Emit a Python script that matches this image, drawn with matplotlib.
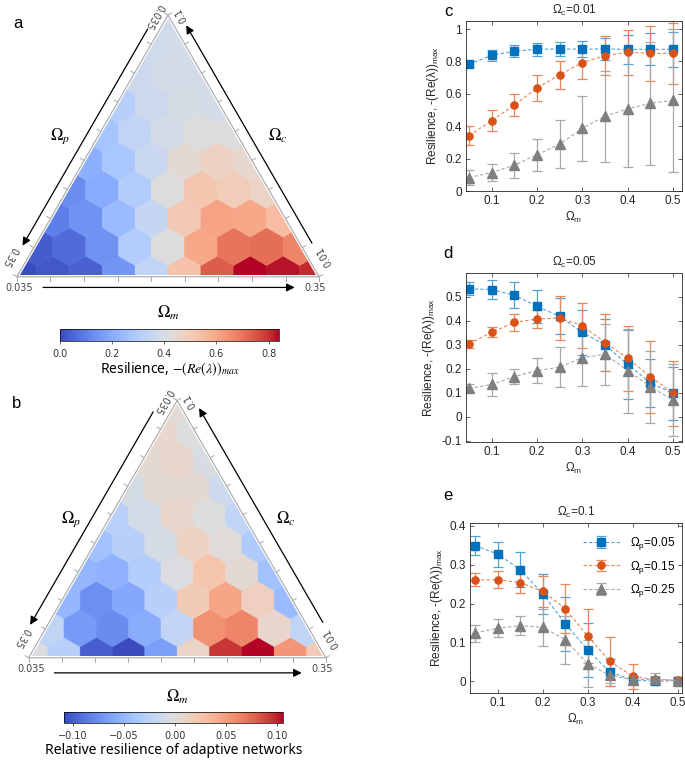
import numpy as np
import matplotlib
matplotlib.use('Agg')
import matplotlib.pyplot as plt
from matplotlib.patches import RegularPolygon, Polygon
from matplotlib.collections import PatchCollection
from matplotlib.colors import Normalize
from matplotlib.ticker import FuncFormatter
import matplotlib.cm as cm

plt.rcParams['font.family'] = ['Liberation Sans', 'DejaVu Sans']
plt.rcParams['mathtext.fontset'] = 'custom'
plt.rcParams['mathtext.rm'] = 'Liberation Sans'
plt.rcParams['mathtext.it'] = 'Liberation Sans:italic'
plt.rcParams['mathtext.bf'] = 'Liberation Sans:bold'

# ---------------- data: ternary heat maps (rows from bottom edge to apex) -------------
N_DIV = 9
resilience_rows = [
    [0.00, 0.02, 0.04, 0.15, 0.34, 0.53, 0.74, 0.84, 0.83, 0.81],
    [0.03, 0.06, 0.14, 0.30, 0.42, 0.60, 0.70, 0.71, 0.67],
    [0.10, 0.14, 0.24, 0.35, 0.51, 0.61, 0.60, 0.55],
    [0.13, 0.20, 0.30, 0.42, 0.52, 0.50, 0.47],
    [0.21, 0.28, 0.36, 0.44, 0.48, 0.45],
    [0.27, 0.34, 0.39, 0.42, 0.42],
    [0.31, 0.37, 0.40, 0.39],
    [0.37, 0.39, 0.39],
    [0.38, 0.39],
    [0.38],
]
relative_rows = [
    [-0.004, -0.029, -0.100, -0.109, -0.066, 0.011, 0.095, 0.106, 0.054, 0.022],
    [-0.023, -0.068, -0.077, -0.057, -0.021, 0.057, 0.063, 0.009, -0.023],
    [-0.051, -0.075, -0.060, -0.029, 0.020, 0.046, 0.016, -0.047],
    [-0.051, -0.053, -0.032, -0.004, 0.026, 0.005, -0.042],
    [-0.042, -0.029, -0.008, 0.014, 0.001, -0.034],
    [-0.027, -0.010, 0.009, -0.002, -0.023],
    [-0.008, 0.005, 0.005, -0.014],
    [0.005, 0.009, -0.006],
    [0.007, -0.002],
    [0.003],
]
res_range = (0.0, 0.84)
rel_range = (-0.109, 0.106)
res_cticks = [0.0, 0.2, 0.4, 0.6, 0.8]
rel_cticks = [-0.10, -0.05, 0.00, 0.05, 0.10]
m_end_labels = ['0.035', '0.35']
p_end_labels = ['0.035', '0.35']
c_end_labels = ['0.01', '0.1']

# ---------------- data: line plots -------------
omega_m = [0.05, 0.10, 0.15, 0.20, 0.25, 0.30, 0.35, 0.40, 0.45, 0.50]
p_labels = ['0.05', '0.15', '0.25']

c_p05 = [0.783, 0.838, 0.864, 0.875, 0.878, 0.876, 0.878, 0.874, 0.876, 0.874]
c_p05_err = [0.02, 0.035, 0.038, 0.04, 0.045, 0.05, 0.07, 0.09, 0.10, 0.11]
c_p15 = [0.342, 0.435, 0.532, 0.636, 0.718, 0.793, 0.836, 0.857, 0.850, 0.850]
c_p15_err = [0.057, 0.066, 0.068, 0.078, 0.088, 0.10, 0.12, 0.14, 0.17, 0.19]
c_p25 = [0.083, 0.114, 0.160, 0.224, 0.290, 0.387, 0.462, 0.507, 0.542, 0.559]
c_p25_err = [0.045, 0.05, 0.077, 0.10, 0.15, 0.20, 0.28, 0.36, 0.38, 0.44]

d_p05 = [0.534, 0.531, 0.507, 0.461, 0.419, 0.352, 0.300, 0.219, 0.142, 0.098]
d_p05_err = [0.027, 0.038, 0.054, 0.068, 0.075, 0.095, 0.11, 0.145, 0.10, 0.11]
d_p15 = [0.304, 0.353, 0.394, 0.408, 0.412, 0.380, 0.310, 0.244, 0.168, 0.098]
d_p15_err = [0.018, 0.022, 0.035, 0.037, 0.09, 0.093, 0.12, 0.135, 0.15, 0.135]
d_p25 = [0.119, 0.135, 0.168, 0.193, 0.207, 0.247, 0.261, 0.193, 0.126, 0.070]
d_p25_err = [0.017, 0.047, 0.03, 0.053, 0.084, 0.117, 0.127, 0.175, 0.15, 0.15]

e_p05 = [0.349, 0.327, 0.287, 0.225, 0.148, 0.081, 0.023, 0.004, 0.000, 0.002]
e_p05_err = [0.025, 0.032, 0.045, 0.052, 0.07, 0.07, 0.035, 0.01, 0.005, 0.007]
e_p15 = [0.261, 0.261, 0.254, 0.231, 0.187, 0.116, 0.051, 0.013, 0.004, 0.003]
e_p15_err = [0.017, 0.022, 0.028, 0.04, 0.062, 0.07, 0.063, 0.032, 0.01, 0.008]
e_p25 = [0.124, 0.137, 0.143, 0.139, 0.107, 0.045, 0.015, 0.004, 0.006, 0.002]
e_p25_err = [0.022, 0.022, 0.025, 0.048, 0.062, 0.06, 0.02, 0.01, 0.016, 0.01]

# ---------------- figure -------------
W, H = 685, 761
fig = plt.figure(figsize=(W / 100, H / 100), dpi=100)


def rect(x0, y0, x1, y1):
    return [x0 / W, 1 - y1 / H, (x1 - x0) / W, (y1 - y0) / H]


def tern_axes(box, origin, scale):
    x0, y0, x1, y1 = box
    ax = fig.add_axes(rect(x0, y0, x1, y1))
    ax.set_xlim((x0 - origin[0]) / scale, (x1 - origin[0]) / scale)
    ax.set_ylim((origin[1] - y1) / scale, (origin[1] - y0) / scale)
    ax.axis('off')
    return ax


def draw_ternary(ax, rows, norm, cmap, boff, moff):
    sq3 = np.sqrt(3)
    h = sq3 / 2
    d = 1.0 / N_DIV
    tri = Polygon([[0, 0], [1, 0], [0.5, h]], closed=True, transform=ax.transData,
                  facecolor='none', edgecolor='none')
    ax.add_patch(tri)
    patches, vals = [], []
    for j, row in enumerate(rows):
        for i, v in enumerate(row):
            cx = (i + j / 2) * d
            cy = j * h * d
            patches.append(RegularPolygon((cx, cy), 6, radius=d / sq3, orientation=0))
            vals.append(v)
    pc = PatchCollection(patches, cmap=cmap, norm=norm, edgecolor='face', linewidth=0.4)
    pc.set_array(np.array(vals))
    ax.add_collection(pc)
    pc.set_clip_path(tri)

    # outline slightly outside
    cen = np.array([0.5, h / 3])
    e = 0.006
    fac = (h / 3 + e) / (h / 3)
    verts = np.array([[0, 0], [1, 0], [0.5, h], [0, 0]])
    ov = cen + (verts - cen) * fac
    ax.plot(ov[:, 0], ov[:, 1], color='#a8a8a8', lw=0.8, solid_joinstyle='miter')

    # ticks
    nl = np.array([-h, 0.5])
    nr = np.array([h, 0.5])
    tl = 0.014
    for k in range(N_DIV + 1):
        t = k / N_DIV
        pb = np.array([ov[0, 0] + t * (ov[1, 0] - ov[0, 0]), ov[0, 1]])
        ax.plot([pb[0], pb[0]], [pb[1], pb[1] - tl], color='#a8a8a8', lw=0.7)
        pl = ov[0] + t * (ov[2] - ov[0])
        ax.plot([pl[0], pl[0] + nl[0] * tl], [pl[1], pl[1] + nl[1] * tl], color='#a8a8a8', lw=0.7)
        pr = ov[1] + t * (ov[2] - ov[1])
        ax.plot([pr[0], pr[0] + nr[0] * tl], [pr[1], pr[1] + nr[1] * tl], color='#a8a8a8', lw=0.7)

    aprops = dict(arrowstyle='-|>', color='black', lw=0.9, mutation_scale=12,
                  shrinkA=0, shrinkB=0)
    # bottom arrow (Omega_m increases to the right)
    ax.annotate('', xy=(0.928, -boff), xytext=(0.078, -boff), arrowprops=aprops)
    # left arrow (Omega_p increases downwards)
    P = lambda t: np.array([0.5 * t, h * t]) + nl * boff
    ax.annotate('', xy=P(0.09), xytext=P(0.935), arrowprops=aprops)
    # right arrow (Omega_c increases upwards)
    R = lambda t: np.array([1 - 0.5 * t, h * t]) + nr * boff
    ax.annotate('', xy=R(0.95), xytext=R(0.10), arrowprops=aprops)

    lab = dict(fontsize=12, math_fontfamily='stix', ha='center', va='center')
    ax.text(0.5, -moff, r'$\Omega_m$', **lab)
    ax.text(0.135, 0.47, r'$\Omega_p$', **lab)
    ax.text(0.872, 0.47, r'$\Omega_c$', **lab)

    tk = dict(fontsize=7, color='#444444', ha='center', va='center', family='DejaVu Sans')
    ax.text(-0.003, -0.045, m_end_labels[0], **tk)
    ax.text(0.997, -0.045, m_end_labels[1], **tk)
    ax.text(0.452, 0.875, p_end_labels[0], rotation=240, **tk)
    ax.text(-0.035, 0.062, p_end_labels[1], rotation=240, **tk)
    ax.text(0.545, 0.878, c_end_labels[1], rotation=120, **tk)
    ax.text(1.03, 0.062, c_end_labels[0], rotation=120, **tk)


cmap = plt.get_cmap('coolwarm')

# panel a
norm_a = Normalize(*res_range)
ax_a = tern_axes((0, 0, 340, 300), (20, 275), 296)
draw_ternary(ax_a, resilience_rows, norm_a, cmap, 0.042, 0.128)
cax_a = fig.add_axes(rect(60, 329, 279, 341))
cb_a = fig.colorbar(cm.ScalarMappable(norm=norm_a, cmap=cmap), cax=cax_a, orientation='horizontal')
cb_a.set_ticks(res_cticks)
cb_a.outline.set_linewidth(0.5)
cax_a.tick_params(labelsize=7, length=2.5, width=0.5, colors='#333333')
for t in cax_a.get_xticklabels():
    t.set_family('DejaVu Sans')
cax_a.set_xlabel(r'Resilience, $-(Re(\lambda))_{max}$', fontsize=10, family='Noto Sans',
                 math_fontfamily='stix', labelpad=1)

# panel b
norm_b = Normalize(*rel_range)
ax_b = tern_axes((0, 380, 340, 700), (31.7, 656), 291)
draw_ternary(ax_b, relative_rows, norm_b, cmap, 0.058, 0.141)
cax_b = fig.add_axes(rect(64, 712, 283, 723))
cb_b = fig.colorbar(cm.ScalarMappable(norm=norm_b, cmap=cmap), cax=cax_b, orientation='horizontal')
cb_b.set_ticks(rel_cticks)
cb_b.outline.set_linewidth(0.5)
cax_b.tick_params(labelsize=7, length=2.5, width=0.5, colors='#333333')
for t in cax_b.get_xticklabels():
    t.set_family('DejaVu Sans')
cax_b.set_xlabel('Relative resilience of adaptive networks', fontsize=10, family='Noto Sans',
                 labelpad=1)

fig.text(18 / W, 1 - 23 / H, 'a', fontsize=12, ha='center', va='center')
fig.text(17 / W, 1 - 403 / H, 'b', fontsize=12, ha='center', va='center')

# ---------------- right panels -------------
blue, orange, grey = '#0072BD', '#D95319', '#7F7F7F'
lblue, lorange, lgrey = '#4FA3DA', '#E9865A', '#A8A8A8'
styles = [(blue, lblue, 's', 5.8), (orange, lorange, 'o', 5.2), (grey, lgrey, '^', 7.0)]
fmt = FuncFormatter(lambda v, _: f'{v:g}')


def line_panel(box, series, errs, ylim, yticks, xlim, title, legend=False):
    ax = fig.add_axes(rect(*box))
    for y, e, (c, lc, mk, ms), pl in zip(series, errs, styles, p_labels):
        ax.errorbar(omega_m, y, yerr=e, color=lc, ecolor=lc, linestyle='--', dashes=(3, 2),
                    lw=0.8, elinewidth=0.9, capsize=3.5, capthick=0.9,
                    marker=mk, ms=ms, mfc=c, mec=c, label=r'$\Omega_\mathrm{p}$=' + pl)
    ax.set_xlim(*xlim)
    ax.set_ylim(*ylim)
    ax.set_xticks([0.1, 0.2, 0.3, 0.4, 0.5])
    ax.set_yticks(yticks)
    ax.xaxis.set_major_formatter(fmt)
    ax.yaxis.set_major_formatter(fmt)
    ax.tick_params(direction='in', length=3, width=0.5, top=True, right=True,
                   labelsize=8.5, colors='#262626', pad=3)
    for s in ax.spines.values():
        s.set_linewidth(0.6)
        s.set_color('#262626')
    ax.set_title(title, fontsize=8.5, pad=5, color='#262626')
    ax.set_xlabel(r'$\Omega_\mathrm{m}$', fontsize=8.5, labelpad=2, color='#262626')
    ax.set_ylabel(r'Resilience, -(Re(λ))$_\mathrm{max}$', fontsize=8.5, labelpad=3,
                  color='#262626')
    if legend:
        ax.legend(loc='upper right', bbox_to_anchor=(1.0, 0.97), frameon=False, fontsize=8.5,
                  handlelength=3.2, labelspacing=0.55, borderaxespad=0.2)
    return ax


line_panel((466, 21, 682, 191), [c_p05, c_p15, c_p25], [c_p05_err, c_p15_err, c_p25_err],
           (0, 1.05), [0, 0.2, 0.4, 0.6, 0.8, 1.0], (0.043, 0.52),
           r'$\Omega_\mathrm{c}$=0.01')
line_panel((466, 273, 682, 442), [d_p05, d_p15, d_p25], [d_p05_err, d_p15_err, d_p25_err],
           (-0.105, 0.6), [-0.1, 0, 0.1, 0.2, 0.3, 0.4, 0.5], (0.043, 0.52),
           r'$\Omega_\mathrm{c}$=0.05')
line_panel((470, 523, 682, 693), [e_p05, e_p15, e_p25], [e_p05_err, e_p15_err, e_p25_err],
           (-0.03, 0.407), [0, 0.1, 0.2, 0.3, 0.4], (0.038, 0.51),
           r'$\Omega_\mathrm{c}$=0.1', legend=True)

for lt, yy in (('c', 12), ('d', 253), ('e', 496)):
    fig.text(448 / W, 1 - yy / H, lt, fontsize=12, ha='center', va='center')

fig.savefig('out.png', dpi=100)
